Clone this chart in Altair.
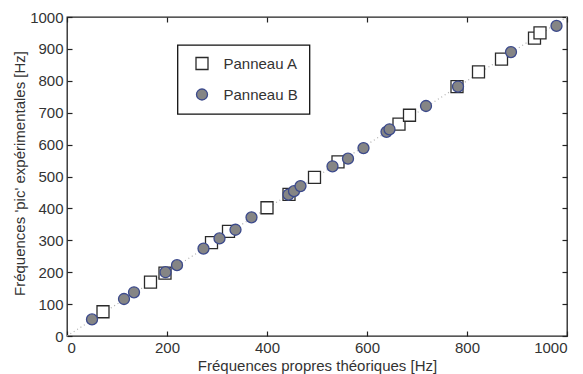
import altair as alt
import pandas as pd

# Panneau A (squares)
a_x = [72, 167, 196, 289, 323, 400, 444, 495, 542, 664, 685, 780, 823, 869, 935, 946]
a_y = [76, 169, 197, 293, 328, 402, 444, 497, 546, 664, 692, 782, 828, 868, 934, 950]
# Panneau B (circles)
b_x = [50, 114, 134, 197, 220, 273, 305, 337, 369, 443, 454, 467, 531, 562, 593, 639, 645, 718, 782, 888, 979]
b_y = [52, 116, 137, 200, 222, 274, 306, 333, 372, 443, 454, 470, 532, 556, 589, 640, 648, 721, 782, 890, 972]
# reference diagonal
line_x = [0, 1000]
line_y = [0, 1000]

series = ["Panneau A"] * len(a_x) + ["Panneau B"] * len(b_x)
pts = pd.DataFrame({"x": a_x + b_x, "y": a_y + b_y, "s": series, "o": list(range(len(series)))})
diag = pd.DataFrame({"x": line_x, "y": line_y})

FONT = "Liberation Sans"
TXT = "#333333"
xs = alt.Scale(domain=[0, 1000], nice=False, zero=False)
ys = alt.Scale(domain=[0, 1000], nice=False, zero=False)
xvals = [0, 200, 400, 600, 800, 1000]
yvals = list(range(0, 1001, 100))

# main layer axes: labels + titles
x_main = alt.Axis(values=xvals, format="d", ticks=False, tickSize=0, domain=False, grid=False,
                  labelPadding=4, labelFontSize=15, labelFont=FONT, labelColor=TXT,
                  title="Fréquences propres théoriques [Hz]", titleFontSize=15,
                  titleFont=FONT, titleFontWeight="normal", titleColor=TXT,
                  titleBaseline="alphabetic", titleY=34)
y_main = alt.Axis(values=yvals, format="d", ticks=False, tickSize=0, domain=False, grid=False,
                  labelPadding=4, labelFontSize=15, labelFont=FONT, labelColor=TXT,
                  title="Fréquences 'pic' expérimentales [Hz]", titleFontSize=15,
                  titleFont=FONT, titleFontWeight="normal", titleColor=TXT,
                  titleBaseline="alphabetic", titleX=-43, titleY=156, titleAngle=270)


def tick_axis(orient, vals):
    return alt.Axis(orient=orient, values=vals, offset=-5, tickSize=5, ticks=True,
                    tickColor="#222222", tickWidth=1.2, labels=False, domain=False,
                    grid=False, title=None)


diag_layer = alt.Chart(diag).mark_line(color="#b0b0b0", strokeDash=[1, 3], strokeWidth=1.2).encode(
    x=alt.X("x:Q", scale=xs, axis=tick_axis("bottom", xvals)),
    y=alt.Y("y:Q", scale=ys, axis=tick_axis("left", yvals)),
)

top_right = alt.Chart(diag).mark_line(opacity=0).encode(
    x=alt.X("x:Q", scale=xs, axis=tick_axis("top", xvals)),
    y=alt.Y("y:Q", scale=ys, axis=tick_axis("right", yvals)),
)

dom = ["Panneau A", "Panneau B"]
points = alt.Chart(pts).mark_point(filled=True, strokeWidth=1.3, opacity=1).encode(
    x=alt.X("x:Q", scale=xs, axis=x_main),
    y=alt.Y("y:Q", scale=ys, axis=y_main),
    shape=alt.Shape("s:N", scale=alt.Scale(domain=dom, range=["square", "circle"]),
                    legend=alt.Legend(title=None)),
    fill=alt.Fill("s:N", scale=alt.Scale(domain=dom, range=["#ffffff", "#858585"]),
                  legend=alt.Legend(title=None)),
    stroke=alt.Stroke("s:N", scale=alt.Scale(domain=dom, range=["#2a2a2a", "#3c4a8c"]),
                      legend=alt.Legend(title=None)),
    size=alt.Size("s:N", scale=alt.Scale(domain=dom, range=[144, 121]),
                  legend=alt.Legend(title=None)),
    order=alt.Order("o:Q"),
)

chart = alt.layer(diag_layer, top_right, points).resolve_axis(
    x="independent", y="independent"
).properties(
    width=500, height=319,
    autosize=alt.AutoSizeParams(type="none"),
    padding={"left": 59, "top": 9, "right": 8, "bottom": 40},
).configure_view(
    stroke="#222222", strokeWidth=1.3
).configure_legend(
    orient="none", legendX=110.5, legendY=28, strokeColor="#111111", strokeWidth=1.3,
    fillColor="#ffffff", padding=11, rowPadding=13, symbolOffset=6, labelOffset=14,
    labelFontSize=15, labelFont=FONT, labelColor=TXT, symbolStrokeWidth=1.3,
)

chart.save("out.html", embed_options={"renderer": "svg", "actions": False})
